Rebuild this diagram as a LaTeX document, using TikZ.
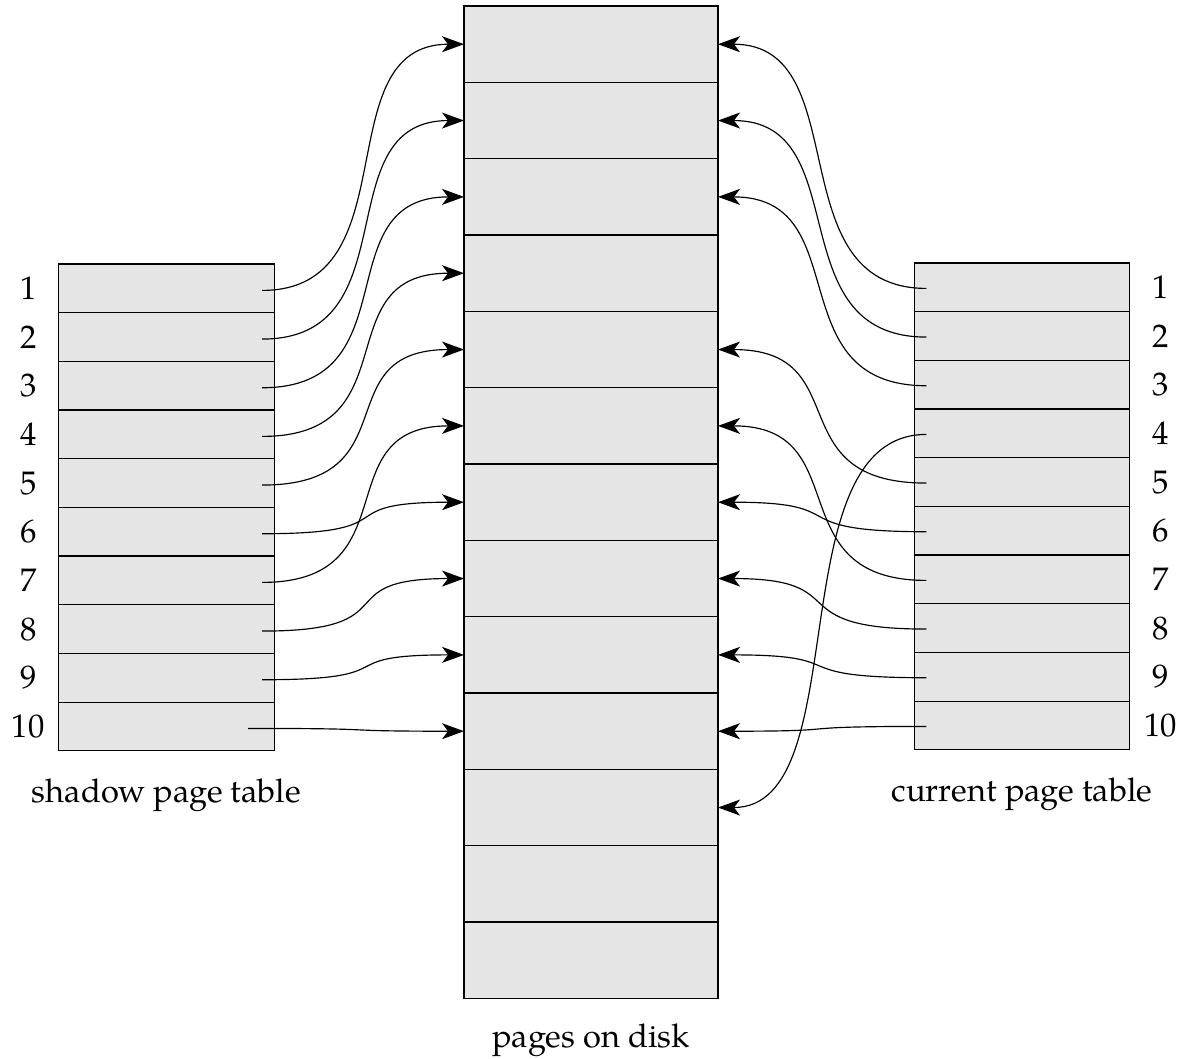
\documentclass[tikz,border=0pt]{standalone}
\usepackage{fontspec}
\setmainfont{TeX Gyre Pagella}
\usetikzlibrary{arrows.meta, positioning}

\begin{document}
\begin{tikzpicture}[x=0.3pt, y=-0.3pt, font=\fontsize{9.8}{12}\selectfont]
      \tikzstyle{page}=[rectangle, draw, line width=0.35pt, fill=gray!20, inner sep=0pt, outer sep=0pt, minimum width=76.2pt, minimum height=22.9pt]
      \tikzstyle{entry}=[rectangle, draw, line width=0.35pt, fill=gray!20, inner sep=0pt, outer sep=0pt, minimum width=64.6pt, minimum height=14.6pt]
      \tikzstyle{num}=[text width=18pt, align=center, inner sep=0pt]
      \tikzstyle{link}=[-{Stealth[length=6.6pt, width=4.8pt, inset=1.8pt]}, line width=0.35pt]
      \useasboundingbox (0,0) rectangle (1180,1058);

      % pages on disk
      \node[page] (d1) at (591,44.2) {};
      \node[page, below=0cm of d1] (d2) {};
      \node[page, below=0cm of d2] (d3) {};
      \node[page, below=0cm of d3] (d4) {};
      \node[page, below=0cm of d4] (d5) {};
      \node[page, below=0cm of d5] (d6) {};
      \node[page, below=0cm of d6] (d7) {};
      \node[page, below=0cm of d7] (d8) {};
      \node[page, below=0cm of d8] (d9) {};
      \node[page, below=0cm of d9] (d10) {};
      \node[page, below=0cm of d10] (d11) {};
      \node[page, below=0cm of d11] (d12) {};
      \node[page, below=0cm of d12] (d13) {};
      \node[below=4.2pt of d13] (disk) {pages on disk};

      % shadow page table
      \node[entry] (s1) at (166.5,288.4) {};
      \node[entry, below=0cm of s1] (s2) {};
      \node[entry, below=0cm of s2] (s3) {};
      \node[entry, below=0cm of s3] (s4) {};
      \node[entry, below=0cm of s4] (s5) {};
      \node[entry, below=0cm of s5] (s6) {};
      \node[entry, below=0cm of s6] (s7) {};
      \node[entry, below=0cm of s7] (s8) {};
      \node[entry, below=0cm of s8] (s9) {};
      \node[entry, below=0cm of s9] (s10) {};
      \node[below=4.8pt of s10] (shadow) {shadow page table};
      \node[num, left=0cm of s1] (l1) {1};
      \node[num, left=0cm of s2] (l2) {2};
      \node[num, left=0cm of s3] (l3) {3};
      \node[num, left=0cm of s4] (l4) {4};
      \node[num, left=0cm of s5] (l5) {5};
      \node[num, left=0cm of s6] (l6) {6};
      \node[num, left=0cm of s7] (l7) {7};
      \node[num, left=0cm of s8] (l8) {8};
      \node[num, left=0cm of s9] (l9) {9};
      \node[num, left=0cm of s10] (l10) {10};

      % current page table
      \node[entry] (c1) at (1022,287.4) {};
      \node[entry, below=0cm of c1] (c2) {};
      \node[entry, below=0cm of c2] (c3) {};
      \node[entry, below=0cm of c3] (c4) {};
      \node[entry, below=0cm of c4] (c5) {};
      \node[entry, below=0cm of c5] (c6) {};
      \node[entry, below=0cm of c6] (c7) {};
      \node[entry, below=0cm of c7] (c8) {};
      \node[entry, below=0cm of c8] (c9) {};
      \node[entry, below=0cm of c9] (c10) {};
      \node[below=4.8pt of c10] (current) {current page table};
      \node[num, right=0cm of c1] (r1) {1};
      \node[num, right=0cm of c2] (r2) {2};
      \node[num, right=0cm of c3] (r3) {3};
      \node[num, right=0cm of c4] (r4) {4};
      \node[num, right=0cm of c5] (r5) {5};
      \node[num, right=0cm of c6] (r6) {6};
      \node[num, right=0cm of c7] (r7) {7};
      \node[num, right=0cm of c8] (r8) {8};
      \node[num, right=0cm of c9] (r9) {9};
      \node[num, right=0cm of c10] (r10) {10};

      % shadow pointers
      \draw[link] (s1.east) ++(-12,2) .. controls +(150,0) and +(-140,0) .. (d1.west);
      \draw[link] (s2.east) ++(-12,2) .. controls +(150,0) and +(-140,0) .. (d2.west);
      \draw[link] (s3.east) ++(-12,2) .. controls +(150,0) and +(-140,0) .. (d3.west);
      \draw[link] (s4.east) ++(-12,2) .. controls +(150,0) and +(-140,0) .. (d4.west);
      \draw[link] (s5.east) ++(-12,2) .. controls +(150,0) and +(-140,0) .. (d5.west);
      \draw[link] (s6.east) ++(-12,2) .. controls +(150,0) and +(-140,0) .. (d7.west);
      \draw[link] (s7.east) ++(-12,2) .. controls +(150,0) and +(-140,0) .. (d6.west);
      \draw[link] (s8.east) ++(-12,2) .. controls +(150,0) and +(-140,0) .. (d8.west);
      \draw[link] (s9.east) ++(-12,2) .. controls +(150,0) and +(-140,0) .. (d9.west);
      \draw[link] (s10.east) ++(-26,2) .. controls +(150,0) and +(-140,0) .. (d10.west);

      % current pointers
      \draw[link] (c1.west) ++(12,1) .. controls +(-150,0) and +(140,0) .. (d1.east);
      \draw[link] (c2.west) ++(12,1) .. controls +(-150,0) and +(140,0) .. (d2.east);
      \draw[link] (c3.west) ++(12,1) .. controls +(-150,0) and +(140,0) .. (d3.east);
      \draw[link] (c4.west) ++(12,1) .. controls +(-150,0) and +(140,0) .. (d11.east);
      \draw[link] (c5.west) ++(12,1) .. controls +(-150,0) and +(140,0) .. (d5.east);
      \draw[link] (c6.west) ++(12,1) .. controls +(-150,0) and +(140,0) .. (d7.east);
      \draw[link] (c7.west) ++(12,1) .. controls +(-150,0) and +(140,0) .. (d6.east);
      \draw[link] (c8.west) ++(12,1) .. controls +(-150,0) and +(140,0) .. (d8.east);
      \draw[link] (c9.west) ++(12,1) .. controls +(-150,0) and +(140,0) .. (d9.east);
      \draw[link] (c10.west) ++(12,1) .. controls +(-150,0) and +(140,0) .. (d10.east);
\end{tikzpicture}
\end{document}
